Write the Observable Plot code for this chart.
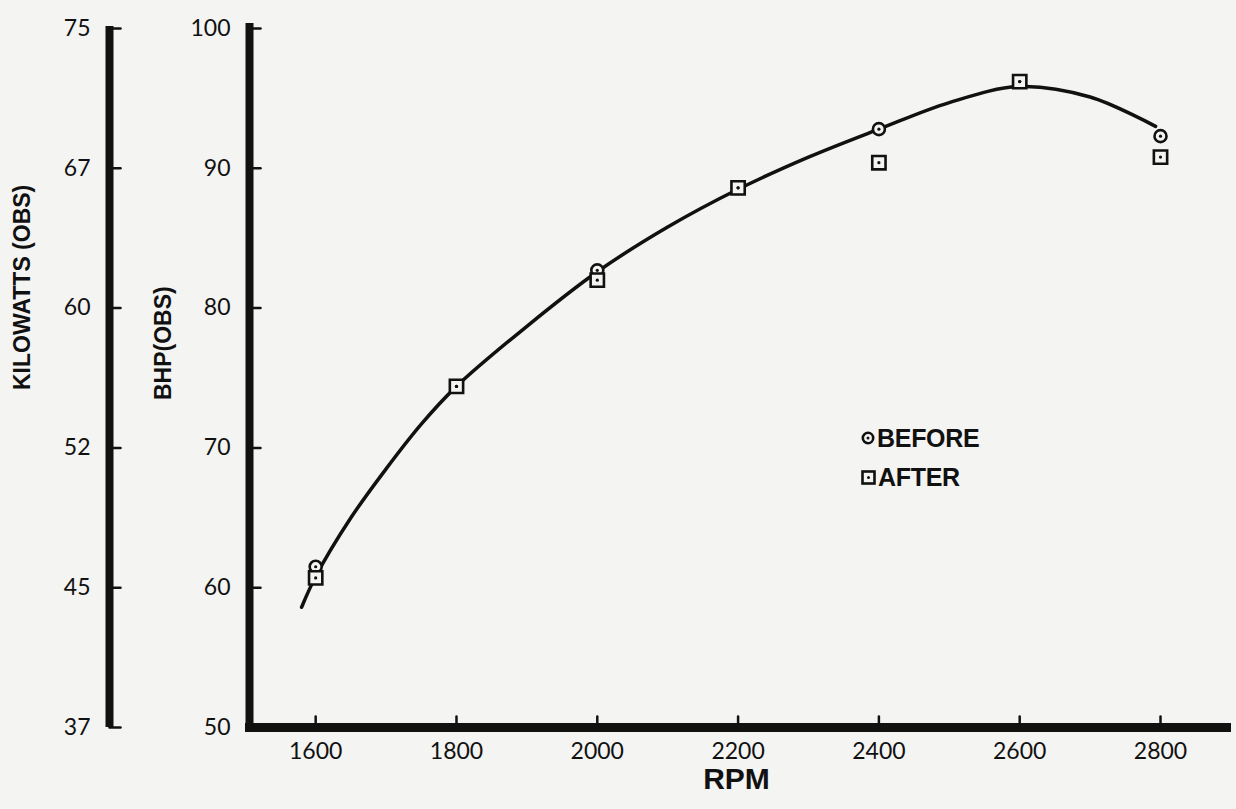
<!DOCTYPE html>
<html>
<head>
<meta charset="utf-8">
<script src="https://cdn.jsdelivr.net/npm/d3@7"></script>
<script src="https://cdn.jsdelivr.net/npm/@observablehq/plot@0.6"></script>
<style>
  html, body { margin: 0; padding: 0; background: #f4f4f2; overflow: hidden; }
  #wrap { position: relative; width: 1236px; height: 809px; }
  #legend { position: absolute; left: 861px; top: 0; font-family: "Liberation Sans", Arial, sans-serif; font-weight: bold; font-size: 25px; color: #111; }
  .row { position: absolute; left: 0; display: flex; align-items: center; height: 24px; white-space: nowrap; letter-spacing: -0.3px; }
  .row svg { margin-right: 2px; }
</style>
</head>
<body>
<div id="wrap">
  <div id="chart"></div>
  <div id="legend"></div>
</div>
<script>
// ---- data ----
const rpm = [1600, 1800, 2000, 2200, 2400, 2600, 2800];
const bhpBefore = [61.5, 74.4, 82.7, 88.6, 92.8, 96.2, 92.3];
const bhpAfter  = [60.7, 74.4, 82.0, 88.6, 90.4, 96.2, 90.8];
const curveRpm = [1580, 1600, 1650, 1700, 1750, 1800, 1900, 2000, 2100, 2200, 2300, 2400, 2500, 2600, 2700, 2793];
const curveBhp = [58.6, 60.8, 65.0, 68.5, 71.7, 74.4, 78.7, 82.6, 85.8, 88.5, 90.8, 92.8, 94.7, 95.85, 95.1, 93.0];
const rpmTicks = [1600, 1800, 2000, 2200, 2400, 2600, 2800];
const bhpTicks = [50, 60, 70, 80, 90, 100];
const kwLabels = ["37", "45", "52", "60", "67", "75"];
const seriesNames = ["BEFORE", "AFTER"];
const xDomain = [1506, 2898];
const yDomain = [50, 100];

const paper = "#f4f4f2";
const ink = "#111";

const before = rpm.map((r, i) => ({rpm: r, bhp: bhpBefore[i]}));
const after = rpm.map((r, i) => ({rpm: r, bhp: bhpAfter[i]}));
const curve = curveRpm.map((r, i) => ({rpm: r, bhp: curveBhp[i]}));

const tickShape = {draw(context, l) { context.moveTo(0, 0); context.lineTo(0, -l); }};
const labelFont = "Liberation Sans, Arial, sans-serif";

const chart = Plot.plot({
  width: 1236,
  height: 809,
  marginLeft: 249,
  marginRight: 7,
  marginTop: 28,
  marginBottom: 82,
  style: {background: "transparent", fontFamily: "Lato, 'DejaVu Sans', sans-serif", fontSize: "23px", color: ink},
  x: {domain: xDomain},
  y: {domain: yDomain},
  marks: [
    // axis lines
    Plot.ruleY([yDomain[0]], {stroke: ink, strokeWidth: 9, insetLeft: -4, insetRight: -2}),
    Plot.ruleX([xDomain[0]], {stroke: ink, strokeWidth: 8, insetTop: -5, insetBottom: -4}),
    Plot.ruleX([xDomain[0]], {stroke: ink, strokeWidth: 8, dx: -140, insetTop: -2}),
    // inward ticks
    Plot.vector(bhpTicks, {y: d => d, frameAnchor: "left", rotate: 90, length: 11, anchor: "start", shape: tickShape, stroke: ink, strokeWidth: 2.5}),
    Plot.vector(bhpTicks, {y: d => d, frameAnchor: "left", dx: -140, rotate: 90, length: 11, anchor: "start", shape: tickShape, stroke: ink, strokeWidth: 2.5}),
    Plot.vector(rpmTicks, {x: d => d, frameAnchor: "bottom", rotate: 0, length: 11, anchor: "start", shape: tickShape, stroke: ink, strokeWidth: 2.5}),
    // tick labels
    Plot.axisX({ticks: rpmTicks, tickSize: 0, tickPadding: 15, tickFormat: d => String(d), label: null}),
    Plot.axisY({ticks: bhpTicks, tickSize: 0, tickPadding: 19, tickFormat: d => String(d), label: null}),
    Plot.axisY({ticks: bhpTicks, tickSize: 0, tickPadding: 19, dx: -140, tickFormat: d => kwLabels[bhpTicks.indexOf(d)], label: null}),
    // axis titles
    Plot.text(["KILOWATTS (OBS)"], {frameAnchor: "left", rotate: -90, dx: -227, dy: 12, fontSize: 23, fontWeight: "bold", fontFamily: labelFont, fill: ink}),
    Plot.text(["BHP(OBS)"], {frameAnchor: "left", rotate: -90, dx: -86, dy: 22, fontSize: 23, fontWeight: "bold", fontFamily: labelFont, fill: ink}),
    Plot.text(["RPM"], {frameAnchor: "bottom", dx: -3, dy: 61, fontSize: 30, fontWeight: "bold", fontFamily: labelFont, fill: ink}),
    // fitted curve
    Plot.line(curve, {x: "rpm", y: "bhp", curve: "catmull-rom", stroke: ink, strokeWidth: 3.5}),
    // data points
    Plot.dot(before, {x: "rpm", y: "bhp", r: 6, symbol: "circle", stroke: ink, strokeWidth: 2.6, fill: paper}),
    Plot.dot(after, {x: "rpm", y: "bhp", r: 7.5, symbol: "square", stroke: ink, strokeWidth: 2.6, fill: paper}),
    Plot.dot(before, {x: "rpm", y: "bhp", r: 1.6, fill: ink}),
    Plot.dot(after, {x: "rpm", y: "bhp", r: 1.6, fill: ink})
  ]
});
document.getElementById("chart").appendChild(chart);

// legend
const legend = document.getElementById("legend");
const symbols = [
  `<svg width="14" height="14"><circle cx="7" cy="7" r="5.2" fill="none" stroke="${ink}" stroke-width="2.6"/><circle cx="7" cy="7" r="1.5" fill="${ink}"/></svg>`,
  `<svg width="15" height="15"><rect x="1.5" y="1.5" width="12" height="12" fill="none" stroke="${ink}" stroke-width="2.6"/><circle cx="7.5" cy="7.5" r="1.5" fill="${ink}"/></svg>`
];
const rowTops = [426, 465];
seriesNames.forEach((name, i) => {
  const row = document.createElement("div");
  row.className = "row";
  row.style.top = rowTops[i] + "px";
  row.innerHTML = symbols[i] + "<span>" + name + "</span>";
  legend.appendChild(row);
});
</script>
</body>
</html>
